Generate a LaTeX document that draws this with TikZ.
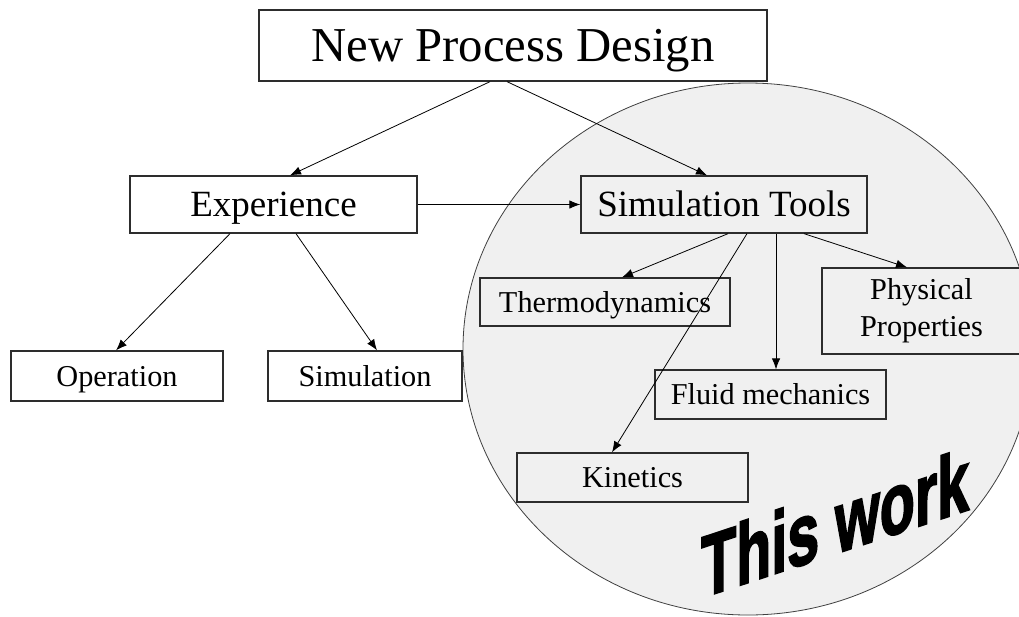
\documentclass[tikz,border=0pt]{standalone}
\usepackage{fontspec}
\setmainfont{Liberation Serif}
\newfontfamily\wafont{Liberation Sans}[BoldFeatures={FakeBold=2.5}]
\usetikzlibrary{arrows.meta,shapes.geometric}
\definecolor{workfill}{RGB}{240,240,240}
\definecolor{boxline}{RGB}{45,45,45}
\begin{document}
\begin{tikzpicture}[x=1pt,y=-1pt,
  box/.style={draw=boxline, line width=1.3pt, inner sep=0pt, text depth=0pt},
  big/.style={font=\fontsize{48.7}{58}\selectfont, text height=32pt},
  mid/.style={font=\fontsize{37}{44}\selectfont, text height=24.4pt},
  small/.style={font=\fontsize{30.3}{37}\selectfont, text height=20pt},
  conn/.style={line width=0.8pt, -{Latex[length=11pt,width=8.5pt]}},
]
\useasboundingbox (0,0) rectangle (1019,616);
\node[ellipse, draw=black!75, line width=0.8pt, fill=workfill, minimum width=570pt, minimum height=532pt, inner sep=0pt] (work) at (748,349) {};
\node[box, big, minimum width=508pt, minimum height=71pt] (npd) at (513,45.5) {New Process Design};
\node[box, mid, minimum width=287pt, minimum height=57pt] (exp) at (273.5,204.5) {Experience};
\node[box, mid, minimum width=286pt, minimum height=57pt] (simt) at (724,204.5) {Simulation Tools};
\node[box, small, minimum width=212pt, minimum height=50pt] (op) at (117,376) {Operation};
\node[box, small, minimum width=194pt, minimum height=50pt] (sim) at (365,376) {Simulation};
\node[box, small, minimum width=250pt, minimum height=48pt] (thermo) at (605,302) {Thermodynamics};
\node[box, small, minimum width=199pt, minimum height=86pt, align=center, text height=57pt, text depth=7pt] (phys) at (921.5,311) {Physical\\Properties};
\node[box, small, minimum width=231pt, minimum height=49pt] (fluid) at (770.5,394.5) {Fluid mechanics};
\node[box, small, minimum width=231pt, minimum height=49pt] (kin) at (632.5,477.5) {Kinetics};
\draw[conn] ([xshift=-23pt]npd.south) -- ([xshift=16.5pt]exp.north);
\draw[conn] ([xshift=-6pt]npd.south) -- ([xshift=-17pt]simt.north);
\draw[conn] (exp.east) -- (simt.west);
\draw[conn] ([xshift=-43.5pt]exp.south) -- ([xshift=-1pt]op.north);
\draw[conn] ([xshift=22.5pt]exp.south) -- ([xshift=12pt]sim.north);
\draw[conn] ([xshift=4pt]simt.south) -- ([xshift=17pt]thermo.north);
\draw[conn] ([xshift=80pt]simt.south) -- ([xshift=-14.5pt]phys.north);
\draw[conn] ([xshift=52pt]simt.south) -- ([xshift=5.5pt]fluid.north);
\draw[conn] ([xshift=23pt]simt.south) -- ([xshift=-20.5pt]kin.north);
\node[font=\wafont\bfseries\fontsize{87}{90}\selectfont, anchor=base west, yslant=0.33, xscale=0.66, inner sep=0pt] (tw) at (701,598) {This work};
\end{tikzpicture}
\end{document}
